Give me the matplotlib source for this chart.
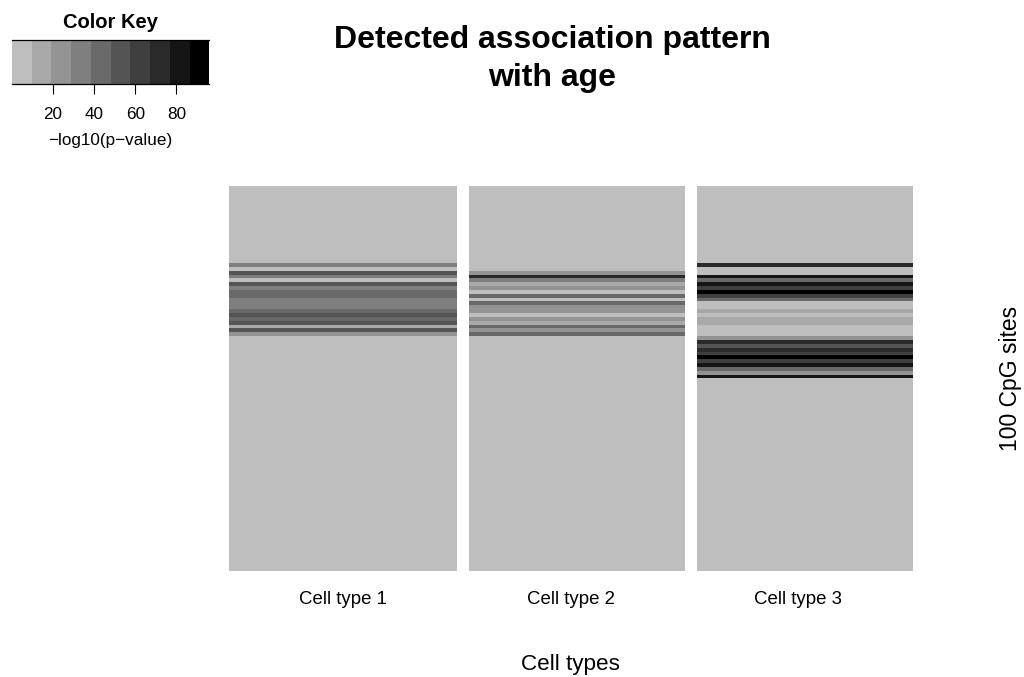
import numpy as np
import matplotlib
matplotlib.use('Agg')
import matplotlib.pyplot as plt
from matplotlib.colors import ListedColormap, BoundaryNorm
from matplotlib.patches import Rectangle
from matplotlib.transforms import blended_transform_factory

plt.rcParams['font.family'] = ['Liberation Sans', 'DejaVu Sans']

n_sites = 100
cell_types = ['Cell type 1', 'Cell type 2', 'Cell type 3']

# -log10(p-value) per CpG site, top to bottom; sites outside the block are 0
ct1_start = 20
ct1_vals = [33, 0, 53, 33, 0, 53, 33, 43, 43, 33, 33, 33, 43, 53, 43, 53, 15, 53, 24]
ct2_start = 22
ct2_vals = [24, 72, 33, 15, 24, 0, 43, 0, 43, 24, 24, 0, 24, 15, 43, 24, 43]
ct3_start = 20
ct3_vals = [72, 0, 0, 81, 43, 81, 62, 91, 62, 43, 0, 0, 15, 0, 15, 15, 0, 0, 0,
            24, 72, 53, 72, 62, 91, 62, 81, 43, 24, 81]

breaks = np.linspace(0, 96, 11)
key_ticks = [20, 40, 60, 80]
grey_levels = np.linspace(190, 0, 10) / 255.0


def site_column(start, vals):
    col = np.zeros(n_sites)
    col[start:start + len(vals)] = vals
    return col


mat = np.column_stack([site_column(ct1_start, ct1_vals),
                       site_column(ct2_start, ct2_vals),
                       site_column(ct3_start, ct3_vals)])

cmap = ListedColormap([(g, g, g) for g in grey_levels])
norm = BoundaryNorm(breaks, cmap.N)

fig = plt.figure(figsize=(10.24, 6.77), dpi=100)

# heatmap
ax = fig.add_axes([0.2236, 0.1570, 0.6673, 0.5683])
ax.imshow(mat, cmap=cmap, norm=norm, aspect='auto', interpolation='nearest',
          extent=(0, 3, n_sites, 0))
for sep in [1, 2]:
    ax.add_patch(Rectangle((sep, 0), 0.055, n_sites, facecolor='white', lw=0))
ax.set_xlim(0, 3)
ax.set_ylim(n_sites, 0)
ax.axis('off')

lab_trans = blended_transform_factory(ax.transData, fig.transFigure)
for i, lab in enumerate(cell_types):
    ax.text(i + 0.5, 1 - 604 / 677, lab, transform=lab_trans,
            ha='center', va='baseline', fontsize=13.4)

fig.text(570.6 / 1024, 1 - 670 / 677, 'Cell types', ha='center', va='baseline', fontsize=16.2)
fig.text(1011 / 1024, 1 - 378.4 / 677, '100 CpG sites', ha='center', va='center',
         rotation=90, fontsize=16.5)

# title
fig.text(552.5 / 1024, 1 - 48.3 / 677, 'Detected association pattern', ha='center',
         va='baseline', fontsize=23, fontweight='bold')
fig.text(552.5 / 1024, 1 - 86 / 677, 'with age', ha='center',
         va='baseline', fontsize=23, fontweight='bold')

# colour key
kax = fig.add_axes([12 / 1024, 1 - 83.5 / 677, 197.3 / 1024, 43.2 / 677])
kax.pcolormesh(breaks, [0, 1], ((breaks[:-1] + breaks[1:]) / 2)[None, :],
               cmap=cmap, norm=norm)
kax.set_xlim(breaks[0], breaks[-1])
kax.set_ylim(0, 1)
kax.set_yticks([])
kax.set_xticks(key_ticks)
kax.set_xticklabels([str(t) for t in key_ticks], fontsize=12.3)
kax.tick_params(axis='x', length=7.2, width=0.8, pad=10)
for side in ['left', 'right']:
    kax.spines[side].set_visible(False)
for side in ['top', 'bottom']:
    kax.spines[side].set_linewidth(0.9)

fig.text(110.7 / 1024, 1 - 28 / 677, 'Color Key', ha='center', va='baseline',
         fontsize=14.5, fontweight='bold')
fig.text(110 / 1024, 1 - 140 / 677, '\u2212log10(p\u2212value)', ha='center', va='center',
         fontsize=12.3)

fig.savefig('out.png', dpi=100)
